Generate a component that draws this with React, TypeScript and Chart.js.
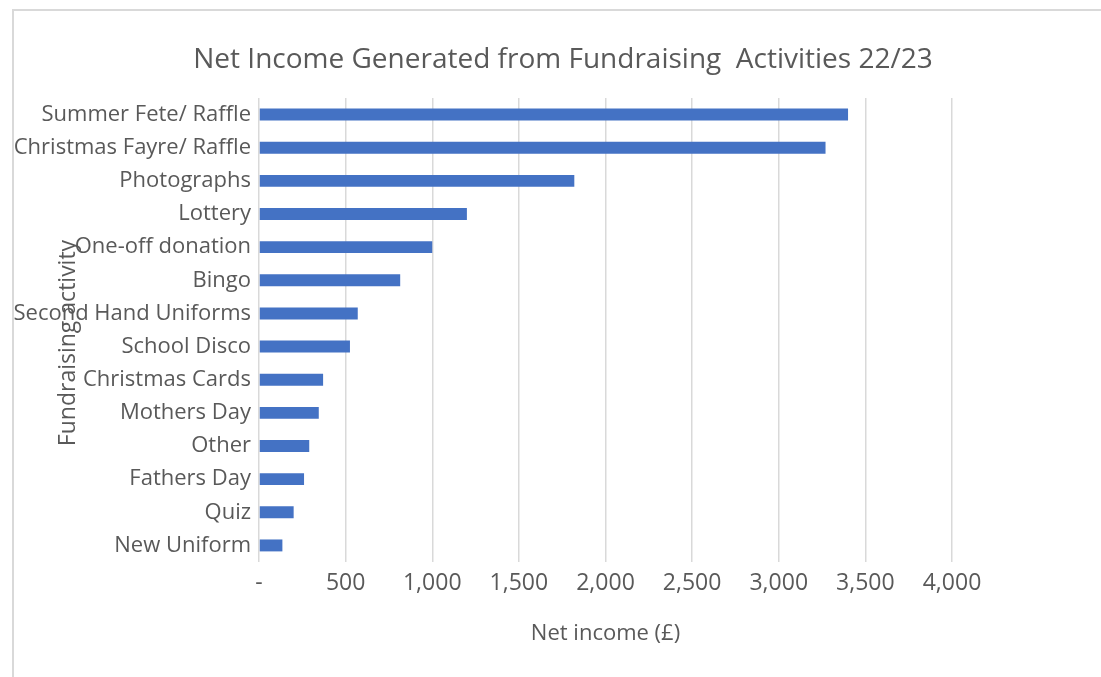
import React, { useEffect, useRef } from "react";
import { Chart, registerables } from "chart.js";

Chart.register(...registerables);

const categories = [
  "Summer Fete/ Raffle",
  "Christmas Fayre/ Raffle",
  "Photographs",
  "Lottery",
  "One-off donation",
  "Bingo",
  "Second Hand Uniforms",
  "School Disco",
  "Christmas Cards",
  "Mothers Day",
  "Other",
  "Fathers Day",
  "Quiz",
  "New Uniform",
];

const netIncome = [3400, 3270, 1820, 1200, 1000, 815, 570, 525, 370, 345, 290, 260, 200, 135];

const xTickValues = [0, 500, 1000, 1500, 2000, 2500, 3000, 3500, 4000];

const chartTitle = "Net Income Generated from Fundraising  Activities 22/23";
const xAxisTitle = "Net income (£)";
const yAxisTitle = "Fundraising activity";

const FONT = "'Open Sans', Lato, sans-serif";
const TEXT = "#595959";

const overlayText = {
  id: "overlayText",
  afterDraw(chart: any) {
    const ctx = chart.ctx;
    ctx.save();
    ctx.fillStyle = TEXT;
    ctx.textAlign = "center";
    ctx.textBaseline = "middle";
    ctx.font = `28px ${FONT}`;
    ctx.fillText(chartTitle, 563, 60);
    ctx.translate(68, 343);
    ctx.rotate(-Math.PI / 2);
    ctx.font = `23px ${FONT}`;
    ctx.fillText(yAxisTitle, 0, 0);
    ctx.restore();
  },
};

export default function App() {
  const ref = useRef<HTMLCanvasElement | null>(null);

  useEffect(() => {
    if (!ref.current) return;
    const chart = new Chart(ref.current, {
      type: "bar",
      data: {
        labels: categories,
        datasets: [
          {
            data: netIncome,
            backgroundColor: "#4472C4",
            borderWidth: 0,
            barPercentage: 0.6,
            categoryPercentage: 0.6,
          },
        ],
      },
      options: {
        indexAxis: "y",
        animation: false,
        responsive: false,
        maintainAspectRatio: false,
        layout: { padding: { top: 98, right: 149, left: 0, bottom: 0 } },
        plugins: {
          legend: { display: false },
          tooltip: { enabled: false },
          title: { display: false },
        },
        scales: {
          x: {
            min: 0,
            max: 4000,
            afterBuildTicks(scale: any) {
              scale.ticks = xTickValues.map((v) => ({ value: v }));
            },
            afterFit(scale: any) {
              scale.height = 677 - 562;
            },
            ticks: {
              color: TEXT,
              font: { family: FONT, size: 23 },
              padding: 8,
              callback: (v: any) => (Number(v) === 0 ? "-" : Number(v).toLocaleString("en-US")),
            },
            grid: { color: "#d9d9d9", lineWidth: 1.5, drawTicks: false },
            border: { display: false },
            title: {
              display: true,
              text: xAxisTitle,
              color: TEXT,
              font: { family: FONT, size: 22 },
              padding: { top: 0, bottom: 30 },
            },
          },
          y: {
            afterFit(scale: any) {
              scale.width = 259;
            },
            ticks: {
              color: TEXT,
              font: { family: FONT, size: 22 },
              padding: 8,
              autoSkip: false,
            },
            grid: { display: false, drawTicks: false },
            border: { display: false },
          },
        },
      },
      plugins: [overlayText],
    });
    return () => chart.destroy();
  }, []);

  return (
    <div style={{ position: "fixed", left: 0, top: 0, width: 1101, height: 677, background: "#fff" }}>
      <div
        style={{
          position: "absolute",
          left: 12,
          top: 9,
          width: 1101,
          height: 677,
          borderLeft: "2px solid #d9d9d9",
          borderTop: "2px solid #d9d9d9",
        }}
      />
      <canvas ref={ref} width={1101} height={677} style={{ position: "absolute", left: 0, top: 0 }} />
    </div>
  );
}
